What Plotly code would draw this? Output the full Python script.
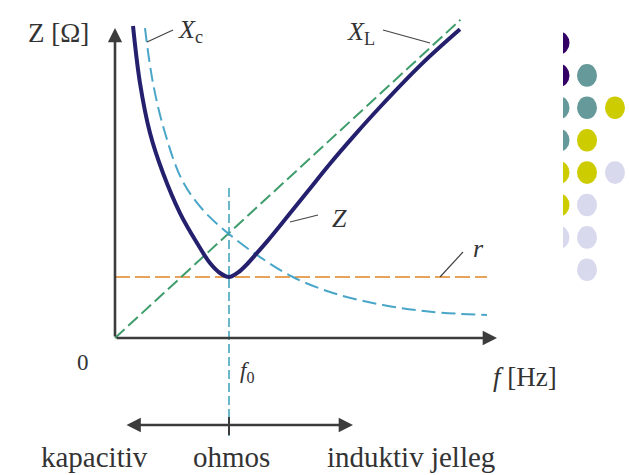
import plotly.graph_objects as go

# Series RLC circuit: impedance versus frequency.
# Frequency is normalised to the resonance frequency (f / f0),
# reactances/resistance are normalised to X_L(f0) = X_C(f0).
f0 = 1.0

xl_f = [0.0, 3.03]
xl_val = [0.0, 3.03]

xc_f = [0.263, 0.333, 0.439, 0.588, 0.772, 1.0, 1.272, 1.561, 1.912, 2.351, 2.789, 3.263]
xc_val = [2.952, 2.429, 1.952, 1.505, 1.219, 0.99, 0.771, 0.581, 0.429, 0.314, 0.248, 0.219]

r_f = [0.0, 3.263]
r_val = [0.581, 0.581]

z_f = [0.158, 0.219, 0.307, 0.421, 0.570, 0.719, 0.833, 0.921, 1.0,
       1.08, 1.16, 1.25, 1.342, 1.5, 1.7, 1.886, 2.1, 2.325, 2.7, 3.026]
z_val = [2.971, 2.429, 1.952, 1.571, 1.190, 0.905, 0.714, 0.619, 0.581,
         0.625, 0.705, 0.815, 0.93, 1.14, 1.41, 1.66, 1.93, 2.2, 2.62, 2.94]

# template decoration: dot colours per row (left, middle, right column)
dot_rows = [
    ["#330066", None, None],
    ["#330066", "#669999", None],
    ["#669999", "#669999", "#cccc00"],
    ["#669999", "#cccc00", None],
    ["#cccc00", "#cccc00", "#d9d9ee"],
    ["#cccc00", "#d9d9ee", None],
    ["#d9d9ee", "#d9d9ee", None],
    [None, "#d9d9ee", None],
]

W, H = 629, 475
OX, OY = 115, 338          # origin on the page
SX, SY = 114, 105          # pixels per unit
X_RANGE = [-OX / SX, (W - OX) / SX]
Y_RANGE = [OY / SY - H / SY, OY / SY]


def at(px, py):
    """page pixel -> data coordinates"""
    return (px - OX) / SX, (OY - py) / SY


AXIS = "#3c3c3c"
TXT = "#333333"
FONT = "Liberation Serif"

fig = go.Figure()

fig.add_trace(go.Scatter(x=r_f, y=r_val, mode="lines",
                         line=dict(color="#e8a35a", width=2, dash="15px,5px"),
                         hoverinfo="skip"))
fig.add_trace(go.Scatter(x=xl_f, y=xl_val, mode="lines",
                         line=dict(color="#3f9c6c", width=2, dash="13px,5px"),
                         hoverinfo="skip"))
fig.add_trace(go.Scatter(x=xc_f, y=xc_val, mode="lines",
                         line=dict(color="#4aa6c8", width=2, dash="14px,6px", shape="spline"),
                         hoverinfo="skip"))
fig.add_trace(go.Scatter(x=[f0, f0], y=[at(0, 188)[1], at(0, 436)[1]], mode="lines",
                         line=dict(color="#3aa0b8", width=1.5, dash="9px,4px"),
                         hoverinfo="skip"))
fig.add_trace(go.Scatter(x=z_f, y=z_val, mode="lines",
                         line=dict(color="#24206e", width=4, shape="spline", smoothing=1.0),
                         hoverinfo="skip"))

shapes = []
annotations = []


def arrow(x_head, y_head, x_tail, y_tail, side="end"):
    annotations.append(dict(x=x_head, y=y_head, ax=x_tail, ay=y_tail,
                            xref="x", yref="y", axref="x", ayref="y",
                            text="", showarrow=True, arrowhead=2, arrowsize=1.1,
                            arrowwidth=2.6, arrowcolor=AXIS, arrowside=side))


# axes
arrow(0, at(0, 28)[1], 0, 0)
arrow(at(497, 0)[0], 0, 0, 0)
# kapacitiv / induktiv range arrow
ya = at(0, 425)[1]
arrow(at(353, 0)[0], ya, at(125, 0)[0], ya, side="end+start")
# tick on the range arrow at f0
shapes.append(dict(type="line", xref="x", yref="y", x0=f0, x1=f0,
                   y0=at(0, 417)[1], y1=at(0, 435)[1],
                   line=dict(color=AXIS, width=2)))


def leader(p1, p2):
    a, b = at(*p1), at(*p2)
    shapes.append(dict(type="line", xref="x", yref="y", x0=a[0], y0=a[1], x1=b[0], y1=b[1],
                       line=dict(color="#444444", width=1.2)))


leader((147, 42), (173, 30))     # X_C
leader((383, 30), (430, 43))     # X_L
leader((290, 222), (318, 215))   # Z
leader((440, 277), (463, 252))   # r


def label(px, py, text, size=26, xanchor="center"):
    x, y = at(px, py)
    annotations.append(dict(x=x, y=y, xref="x", yref="y", text=text, showarrow=False,
                            xanchor=xanchor, yanchor="middle",
                            font=dict(family=FONT, size=size, color=TXT)))


label(58, 33, "Z [Ω]", 27)
label(190, 31, "<i>X</i><sub>c</sub>", 26)
label(361, 33, "<i>X</i><sub>L</sub>", 26)
label(339, 218, "<i>Z</i>", 26)
label(478, 248, "<i>r</i>", 26)
label(83, 362, "0", 23)
label(247, 372, "<i>f</i><sub>0</sub>", 23)
label(525, 377, "<i>f</i> [Hz]", 27)
label(94, 457, "kapacitiv", 29)
label(231, 457, "ohmos", 29)
label(411, 457, "induktiv jelleg", 29)

# decorative dots at the right edge
col_x = [559.5, 587, 615]
for i, row in enumerate(dot_rows):
    cy = 43 + i * 32.4
    for cx, colr in zip(col_x, row):
        if colr is None:
            continue
        shapes.append(dict(type="circle", xref="paper", yref="paper",
                           x0=(cx - 10) / W, x1=(cx + 10) / W,
                           y0=1 - (cy + 11.3) / H, y1=1 - (cy - 11.3) / H,
                           fillcolor=colr, line=dict(width=0), layer="above"))
# left column is cut by the picture frame
shapes.append(dict(type="rect", xref="paper", yref="paper",
                   x0=540 / W, x1=563 / W, y0=1 - 290 / H, y1=1 - 25 / H,
                   fillcolor="white", line=dict(width=0), layer="above"))

hidden = dict(showgrid=False, zeroline=False, showticklabels=False, ticks="",
              showline=False, fixedrange=True)
fig.update_layout(
    width=W, height=H,
    margin=dict(l=0, r=0, t=0, b=0),
    paper_bgcolor="white", plot_bgcolor="white",
    showlegend=False,
    xaxis=dict(range=X_RANGE, **hidden),
    yaxis=dict(range=Y_RANGE, **hidden),
    shapes=shapes,
    annotations=annotations,
)

fig.write_html("out.html")
